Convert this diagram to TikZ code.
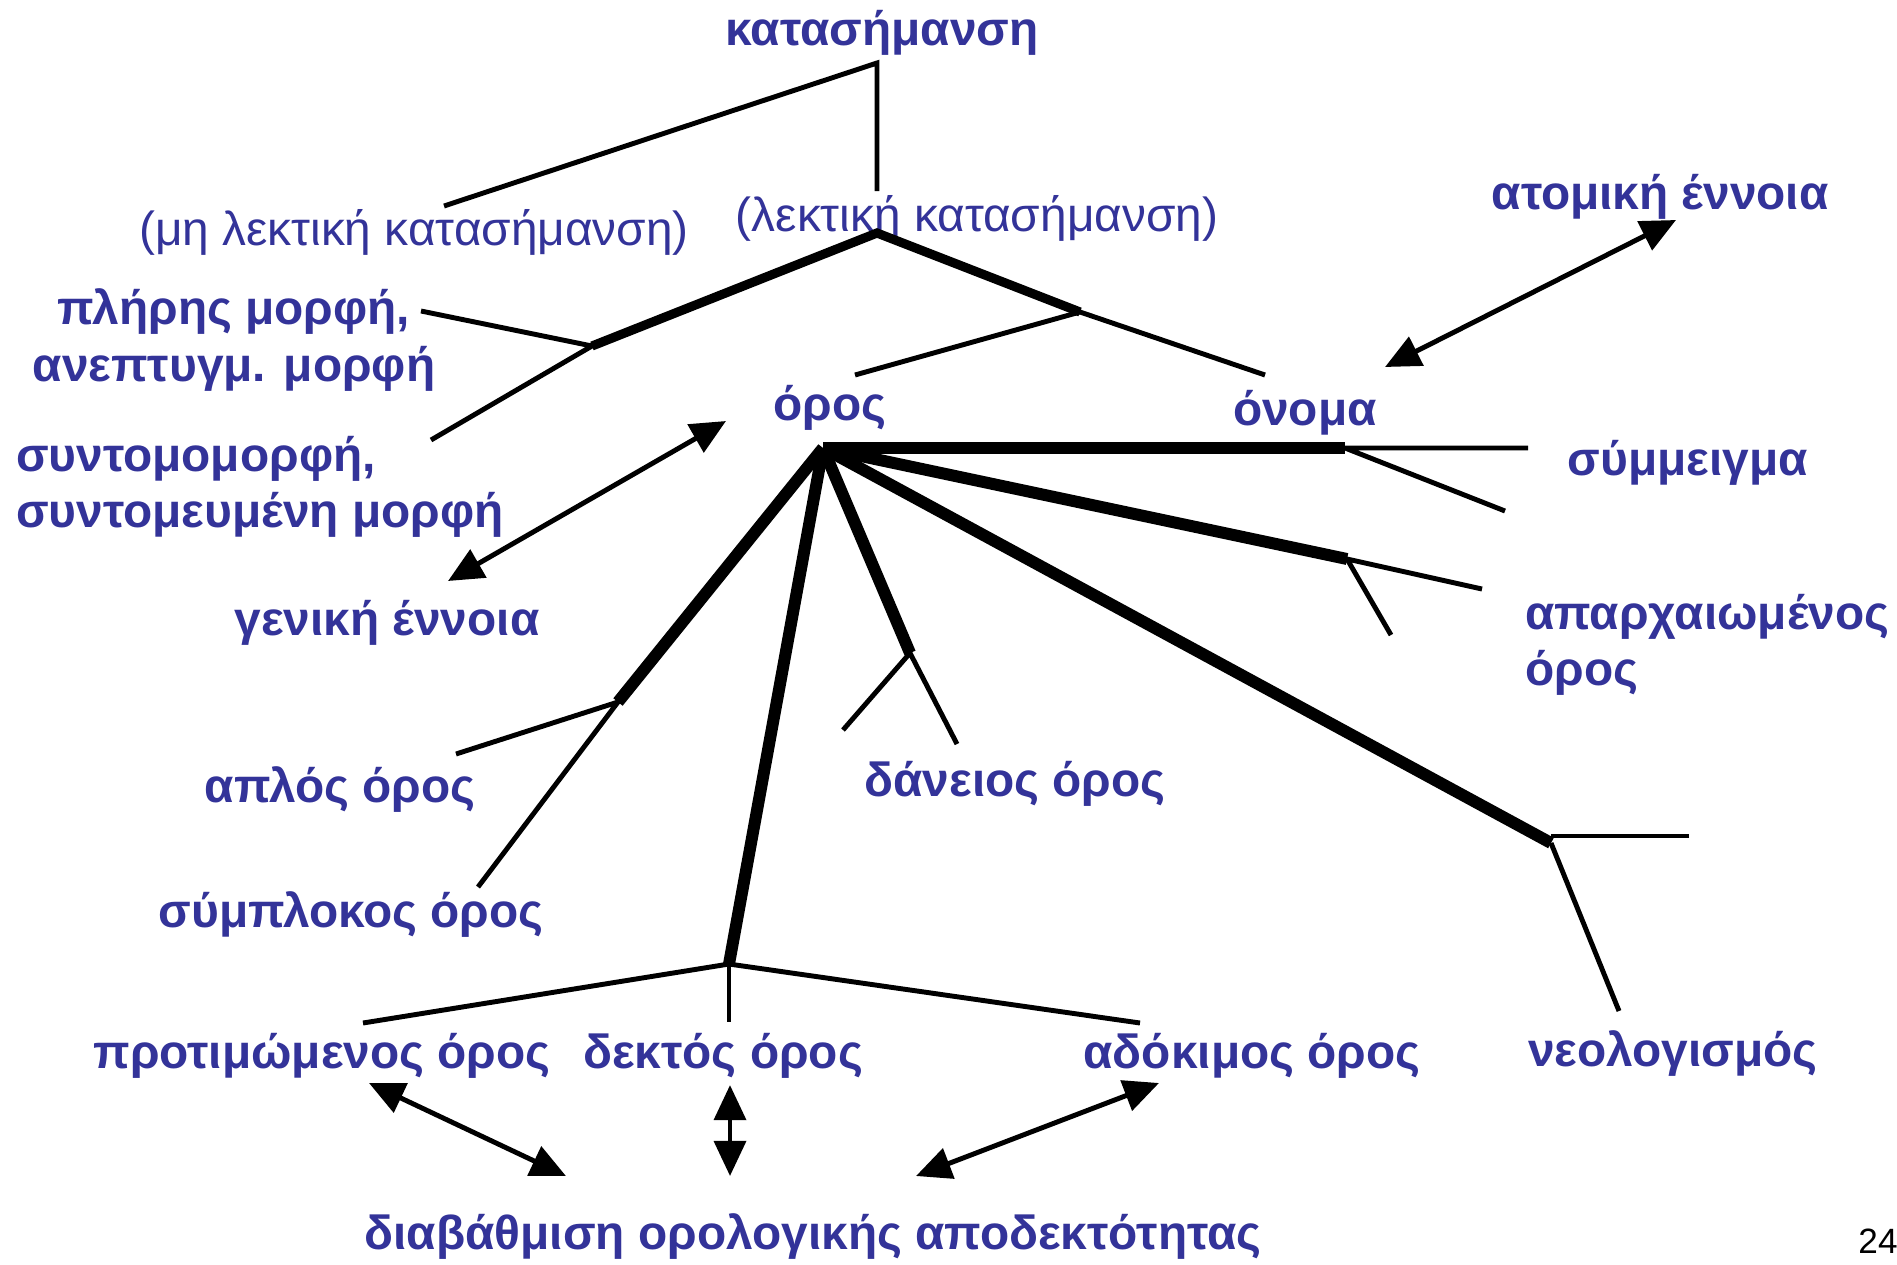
\documentclass[tikz,border=0pt]{standalone}
\usepackage{fontspec}
\setmainfont{Liberation Sans}
\usepackage{tikz}
\usetikzlibrary{arrows.meta}

\definecolor{termblue}{RGB}{51,51,153}

\tikzset{
	term/.style={text=termblue, font=\fontsize{13.6}{16}\selectfont\bfseries, inner sep=1pt},
	plain/.style={text=termblue, font=\fontsize{13.6}{16}\selectfont, inner sep=1pt},
	branch/.style={line width=1.4pt},
	trunk/.style={line width=3.4pt},
	link/.style={line width=1.4pt, {Triangle[length=10pt,width=9pt]}-{Triangle[length=10pt,width=9pt]}}
}

\begin{document}
\begin{tikzpicture}[]
	%\draw[help lines, thick] (0,0) grid (19,-13);
	\useasboundingbox (0,0) rectangle (18.97,-12.64);
	% labels
	\node[term] (kat) at (8.82,-0.33) {κατασήμανση};
	\node[plain] (mhlek) at (4.14,-2.32) {(μη λεκτική κατασήμανση)};
	\node[plain] (lek) at (9.77,-2.18) {(λεκτική κατασήμανση)};
	\node[term] (atom) at (16.60,-1.97) {ατομική έννοια};
	\node[term, align=center] (plhr) at (2.34,-3.40) {πλήρης μορφή,\\ανεπτυγμ. μορφή};
	\node[term, align=left, anchor=west] (synt) at (0.12,-4.87) {συντομομορφή,\\συντομευμένη μορφή};
	\node[term] (oros) at (8.30,-4.08) {όρος};
	\node[term] (onoma) at (13.05,-4.13) {όνομα};
	\node[term] (symm) at (16.88,-4.63) {σύμμειγμα};
	\node[term, align=left, anchor=west] (apar) at (15.21,-6.45) {απαρχαιωμένος\\όρος};
	\node[term] (genik) at (3.87,-6.23) {γενική έννοια};
	\node[term] (aplos) at (3.40,-7.90) {απλός όρος};
	\node[term] (daneios) at (10.15,-7.84) {δάνειος όρος};
	\node[term] (sympl) at (3.51,-9.15) {σύμπλοκος όρος};
	\node[term] (protim) at (3.22,-10.56) {προτιμώμενος όρος};
	\node[term] (dektos) at (7.23,-10.56) {δεκτός όρος};
	\node[term] (adok) at (12.52,-10.56) {αδόκιμος όρος};
	\node[term] (neol) at (16.73,-10.53) {νεολογισμός};
	\node[term] (diav) at (8.13,-12.36) {διαβάθμιση ορολογικής αποδεκτότητας};
	\node[font=\fontsize{10}{12}\selectfont, inner sep=0pt] (page) at (18.78,-12.41) {24};
	% junctions and free ends
	\coordinate (top) at (8.77,-0.63);
	\coordinate (lekTop) at (8.77,-1.91);
	\coordinate (mhEnd) at (4.44,-2.06);
	\coordinate (lekJ) at (8.77,-2.33);
	\coordinate (formJ) at (5.92,-3.46);
	\coordinate (typeJ) at (10.80,-3.12);
	\coordinate (plhrEnd) at (4.21,-3.11);
	\coordinate (syntEnd) at (4.31,-4.40);
	\coordinate (orosEnd) at (8.55,-3.75);
	\coordinate (onomaEnd) at (12.65,-3.75);
	\coordinate (hub) at (8.23,-4.48);
	\coordinate (onJ) at (13.45,-4.48);
	\coordinate (onE1) at (15.28,-4.48);
	\coordinate (onE2) at (15.05,-5.11);
	\coordinate (apJ) at (13.47,-5.59);
	\coordinate (apE1) at (14.82,-5.89);
	\coordinate (apE2) at (13.91,-6.35);
	\coordinate (neJ) at (15.51,-8.43);
	\coordinate (neE1) at (16.89,-8.36);
	\coordinate (neE2) at (16.19,-10.11);
	\coordinate (daJ) at (9.10,-6.53);
	\coordinate (daE1) at (8.43,-7.30);
	\coordinate (daE2) at (9.57,-7.44);
	\coordinate (acJ) at (7.29,-9.64);
	\coordinate (acE1) at (3.63,-10.23);
	\coordinate (acE2) at (11.40,-10.23);
	\coordinate (acE3) at (7.29,-10.22);
	\coordinate (smJ) at (6.18,-7.02);
	\coordinate (smE1) at (4.56,-7.54);
	\coordinate (smE2) at (4.78,-8.87);
	% top part
	\draw[branch] (lekTop)--(top)--(mhEnd);
	\draw[line width=2.6pt] (formJ)--(lekJ)--(typeJ);
	\draw[branch] (plhrEnd)--(formJ)--(syntEnd);
	\draw[branch] (orosEnd)--(typeJ)--(onomaEnd);
	% fan from oros
	\draw[line width=3.6pt] (hub)--(onJ);
	\draw[branch] (onE1)--(onJ)--(onE2);
	\draw[trunk] (hub)--(apJ);
	\draw[branch] (apE1)--(apJ)--(apE2);
	\draw[trunk] (hub)--(neJ);
	\draw[branch] (neE1)--(neJ |- neE1);
	\draw[branch] (neJ)--(neE2);
	\draw[trunk] (hub)--(daJ);
	\draw[branch] (daE1)--(daJ)--(daE2);
	\draw[trunk] (hub)--(acJ);
	\draw[branch] (acE1)--(acJ)--(acE2);
	\draw[branch] (acJ)--(acE3);
	\draw[trunk] (hub)--(smJ);
	\draw[branch] (smE1)--(smJ)--(smE2);
	% two-way arrows
	\draw[link] (4.48,-5.81)--(7.26,-4.21);
	\draw[link] (13.85,-3.67)--(16.76,-2.20);
	\draw[link] (3.69,-10.83)--(5.66,-11.76);
	\draw[link] (7.30,-10.85)--(7.30,-11.76);
	\draw[link] (11.59,-10.83)--(9.16,-11.76);
\end{tikzpicture}
\end{document}
